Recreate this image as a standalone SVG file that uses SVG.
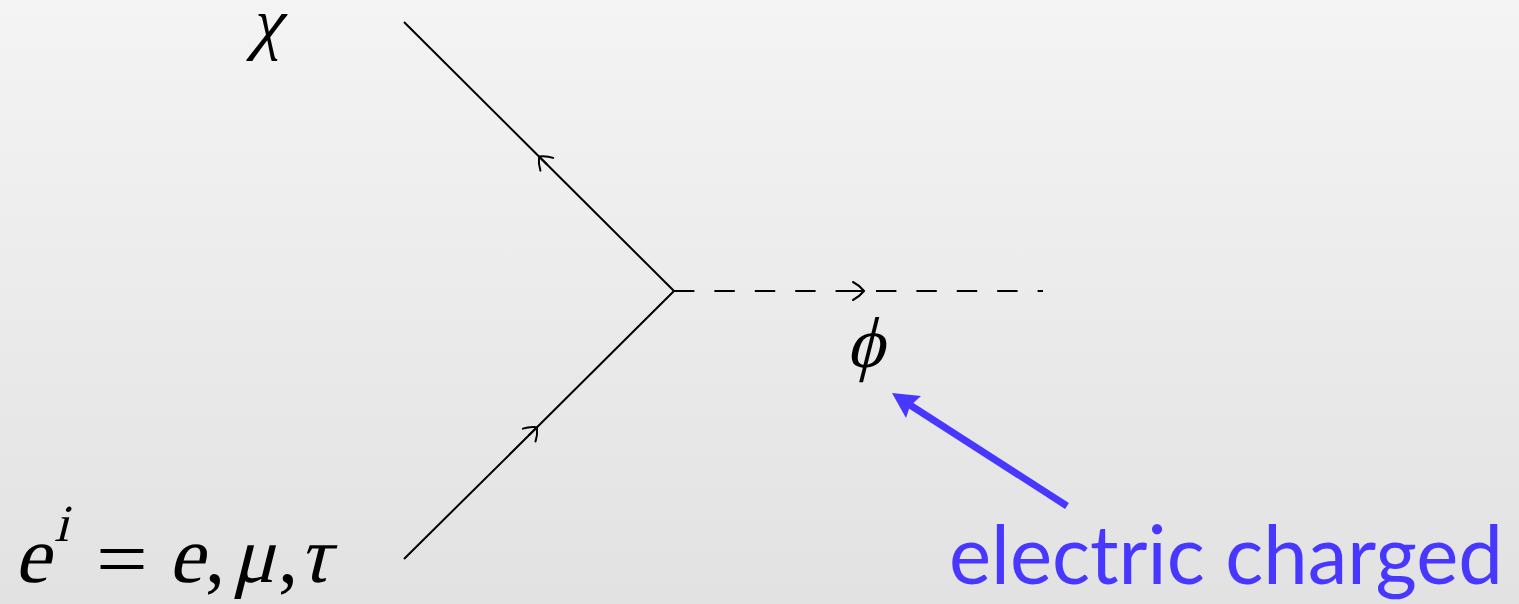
<svg xmlns="http://www.w3.org/2000/svg" width="1519" height="604" viewBox="0 0 1519 604">
<defs>
<linearGradient id="bg" x1="0" y1="0" x2="0" y2="1">
<stop offset="0" stop-color="#f4f4f4"/>
<stop offset="1" stop-color="#e2e2e2"/>
</linearGradient>
<marker id="to" markerUnits="userSpaceOnUse" orient="auto" markerWidth="30" markerHeight="30" refX="15" refY="15" viewBox="0 0 30 30" overflow="visible">
<path d="M 4 15 L 15 15 M 4 6 Q 10 9 15 15 Q 10 21 4 24" fill="none" stroke="#000" stroke-width="2" stroke-linecap="round"/>
</marker>
<style>
.ln{fill:none;stroke:#000;stroke-width:2}
.math{font-family:"Liberation Serif","Times New Roman",serif;font-style:normal;fill:#000}
.lbl{font-family:Lato,"Open Sans",sans-serif;fill:#4838ff}
</style>
</defs>
<rect x="0" y="0" width="1519" height="604" fill="url(#bg)"/>
<g id="connectors">
<path id="chi-line" class="ln" d="M674,291 L539,156.5 L404,22" marker-mid="url(#to)"/>
<path id="e-line" class="ln" d="M404,559 L537,427.3 L674,291" marker-mid="url(#to)"/>
<path id="phi-line" class="ln" d="M674,291 L1043,291" stroke-dasharray="20.4 20"/>
<path id="phi-arrow" class="ln" d="M853,291 L864,291" marker-end="url(#to)"/>
<g id="blue-arrow">
<path d="M1067,506 L910,405" fill="none" stroke="#4838ff" stroke-width="7"/>
<polygon points="892,393 921,396 910,406 906,418" fill="#4838ff"/>
</g>
</g>
<g id="node-chi"><text class="math" transform="translate(250,46) skewX(-14)" font-size="70">χ</text></g>
<g id="node-phi"><text class="math" transform="translate(846,367) skewX(-14)" font-size="72">ϕ</text></g>
<g id="node-e">
<text class="math" transform="translate(14,582) skewX(-14)" font-size="80">e</text>
<text class="math" transform="translate(54,541) skewX(-14)" font-size="52">i</text>
<text class="math" transform="translate(96,586) scale(1.15,1)" font-size="80">=</text>
<text class="math" transform="translate(168,582) skewX(-14)" font-size="80">e</text>
<text class="math" x="205" y="582" font-size="80">,</text>
<text class="math" transform="translate(232,582) skewX(-14)" font-size="80">μ</text>
<text class="math" x="278" y="582" font-size="80">,</text>
<text class="math" transform="translate(298,582) skewX(-14)" font-size="80">τ</text>
</g>
<g id="node-label"><text class="lbl" x="949" y="584" font-size="82" textLength="554" lengthAdjust="spacingAndGlyphs">electric charged</text></g>
</svg>
